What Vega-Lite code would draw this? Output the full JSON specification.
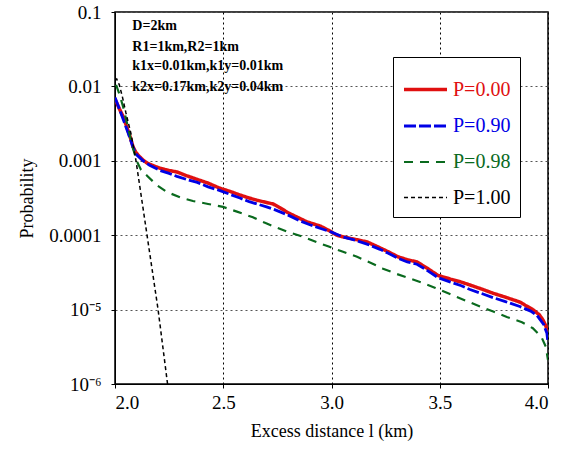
{
  "$schema": "https://vega.github.io/schema/vega-lite/v6.json",
  "width": 433,
  "height": 372,
  "autosize": {"type": "none"},
  "padding": {"left": 115, "top": 12, "right": 31, "bottom": 66},
  "background": "white",
  "config": {
    "font": "Liberation Serif",
    "view": {"stroke": "black", "strokeWidth": 1.5},
    "legend": {"labelFont": "Liberation Serif"},
    "axis": {
      "labelFont": "Liberation Serif",
      "titleFont": "Liberation Serif",
      "labelColor": "black",
      "titleColor": "black",
      "labelFontSize": 19,
      "titleFontSize": 18,
      "titleFontWeight": "normal",
      "domainColor": "black",
      "tickColor": "black",
      "gridColor": "#555555",
      "gridDash": [2, 3],
      "gridWidth": 1
    }
  },
  "layer": [
    {
      "data": {
        "values": [
          {"s": "P=0.00", "l": 2.0, "p": 0.00676},
          {"s": "P=0.00", "l": 2.02, "p": 0.00501},
          {"s": "P=0.00", "l": 2.04, "p": 0.0038},
          {"s": "P=0.00", "l": 2.055, "p": 0.00282},
          {"s": "P=0.00", "l": 2.07, "p": 0.00209},
          {"s": "P=0.00", "l": 2.083, "p": 0.00155},
          {"s": "P=0.00", "l": 2.095, "p": 0.00132},
          {"s": "P=0.00", "l": 2.106, "p": 0.0012},
          {"s": "P=0.00", "l": 2.125, "p": 0.00105},
          {"s": "P=0.00", "l": 2.148, "p": 0.000933},
          {"s": "P=0.00", "l": 2.18, "p": 0.000851},
          {"s": "P=0.00", "l": 2.208, "p": 0.000794},
          {"s": "P=0.00", "l": 2.25, "p": 0.000741},
          {"s": "P=0.00", "l": 2.286, "p": 0.000708},
          {"s": "P=0.00", "l": 2.33, "p": 0.000631},
          {"s": "P=0.00", "l": 2.38, "p": 0.000562},
          {"s": "P=0.00", "l": 2.43, "p": 0.000501},
          {"s": "P=0.00", "l": 2.485, "p": 0.000427},
          {"s": "P=0.00", "l": 2.53, "p": 0.000389},
          {"s": "P=0.00", "l": 2.577, "p": 0.000347},
          {"s": "P=0.00", "l": 2.62, "p": 0.000316},
          {"s": "P=0.00", "l": 2.656, "p": 0.000295},
          {"s": "P=0.00", "l": 2.7, "p": 0.000275},
          {"s": "P=0.00", "l": 2.73, "p": 0.000263},
          {"s": "P=0.00", "l": 2.762, "p": 0.000234},
          {"s": "P=0.00", "l": 2.8, "p": 0.0002},
          {"s": "P=0.00", "l": 2.85, "p": 0.00017},
          {"s": "P=0.00", "l": 2.887, "p": 0.000151},
          {"s": "P=0.00", "l": 2.95, "p": 0.000132},
          {"s": "P=0.00", "l": 2.99, "p": 0.000115},
          {"s": "P=0.00", "l": 3.025, "p": 0.0001},
          {"s": "P=0.00", "l": 3.05, "p": 0.0000955},
          {"s": "P=0.00", "l": 3.1, "p": 0.0000891},
          {"s": "P=0.00", "l": 3.164, "p": 0.0000813},
          {"s": "P=0.00", "l": 3.224, "p": 0.0000676},
          {"s": "P=0.00", "l": 3.26, "p": 0.0000603},
          {"s": "P=0.00", "l": 3.307, "p": 0.0000513},
          {"s": "P=0.00", "l": 3.35, "p": 0.0000468},
          {"s": "P=0.00", "l": 3.395, "p": 0.0000437},
          {"s": "P=0.00", "l": 3.44, "p": 0.0000363},
          {"s": "P=0.00", "l": 3.492, "p": 0.0000288},
          {"s": "P=0.00", "l": 3.55, "p": 0.0000257},
          {"s": "P=0.00", "l": 3.6, "p": 0.0000234},
          {"s": "P=0.00", "l": 3.64, "p": 0.0000214},
          {"s": "P=0.00", "l": 3.7, "p": 0.0000186},
          {"s": "P=0.00", "l": 3.746, "p": 0.0000166},
          {"s": "P=0.00", "l": 3.8, "p": 0.0000148},
          {"s": "P=0.00", "l": 3.871, "p": 0.0000126},
          {"s": "P=0.00", "l": 3.9, "p": 0.0000112},
          {"s": "P=0.00", "l": 3.93, "p": 0.00001},
          {"s": "P=0.00", "l": 3.96, "p": 0.00000851},
          {"s": "P=0.00", "l": 3.977, "p": 0.00000724},
          {"s": "P=0.00", "l": 3.99, "p": 0.00000603},
          {"s": "P=0.00", "l": 4.0, "p": 0.0000049},
          {"s": "P=0.90", "l": 2.0, "p": 0.00708},
          {"s": "P=0.90", "l": 2.03, "p": 0.00417},
          {"s": "P=0.90", "l": 2.06, "p": 0.0024},
          {"s": "P=0.90", "l": 2.085, "p": 0.00148},
          {"s": "P=0.90", "l": 2.1, "p": 0.0012},
          {"s": "P=0.90", "l": 2.13, "p": 0.001},
          {"s": "P=0.90", "l": 2.16, "p": 0.000871},
          {"s": "P=0.90", "l": 2.208, "p": 0.000741},
          {"s": "P=0.90", "l": 2.25, "p": 0.000676},
          {"s": "P=0.90", "l": 2.286, "p": 0.000617},
          {"s": "P=0.90", "l": 2.33, "p": 0.000562},
          {"s": "P=0.90", "l": 2.38, "p": 0.000513},
          {"s": "P=0.90", "l": 2.43, "p": 0.000447},
          {"s": "P=0.90", "l": 2.485, "p": 0.000398},
          {"s": "P=0.90", "l": 2.53, "p": 0.000355},
          {"s": "P=0.90", "l": 2.577, "p": 0.000316},
          {"s": "P=0.90", "l": 2.62, "p": 0.000282},
          {"s": "P=0.90", "l": 2.656, "p": 0.000263},
          {"s": "P=0.90", "l": 2.7, "p": 0.00024},
          {"s": "P=0.90", "l": 2.74, "p": 0.000219},
          {"s": "P=0.90", "l": 2.8, "p": 0.000186},
          {"s": "P=0.90", "l": 2.85, "p": 0.000158},
          {"s": "P=0.90", "l": 2.9, "p": 0.000138},
          {"s": "P=0.90", "l": 2.95, "p": 0.000123},
          {"s": "P=0.90", "l": 3.0, "p": 0.00011},
          {"s": "P=0.90", "l": 3.05, "p": 0.0000955},
          {"s": "P=0.90", "l": 3.1, "p": 0.0000871},
          {"s": "P=0.90", "l": 3.164, "p": 0.0000759},
          {"s": "P=0.90", "l": 3.224, "p": 0.0000646},
          {"s": "P=0.90", "l": 3.26, "p": 0.0000575},
          {"s": "P=0.90", "l": 3.307, "p": 0.000049},
          {"s": "P=0.90", "l": 3.35, "p": 0.0000437},
          {"s": "P=0.90", "l": 3.395, "p": 0.0000407},
          {"s": "P=0.90", "l": 3.44, "p": 0.0000339},
          {"s": "P=0.90", "l": 3.492, "p": 0.0000269},
          {"s": "P=0.90", "l": 3.55, "p": 0.0000234},
          {"s": "P=0.90", "l": 3.6, "p": 0.0000209},
          {"s": "P=0.90", "l": 3.64, "p": 0.0000186},
          {"s": "P=0.90", "l": 3.7, "p": 0.0000162},
          {"s": "P=0.90", "l": 3.746, "p": 0.0000145},
          {"s": "P=0.90", "l": 3.8, "p": 0.0000129},
          {"s": "P=0.90", "l": 3.87, "p": 0.000011},
          {"s": "P=0.90", "l": 3.92, "p": 0.00000955},
          {"s": "P=0.90", "l": 3.95, "p": 0.00000832},
          {"s": "P=0.90", "l": 3.98, "p": 0.00000631},
          {"s": "P=0.90", "l": 3.995, "p": 0.00000479},
          {"s": "P=0.90", "l": 4.0, "p": 0.00000355},
          {"s": "P=0.98", "l": 2.005, "p": 0.0105},
          {"s": "P=0.98", "l": 2.02, "p": 0.00794},
          {"s": "P=0.98", "l": 2.04, "p": 0.00501},
          {"s": "P=0.98", "l": 2.06, "p": 0.00282},
          {"s": "P=0.98", "l": 2.08, "p": 0.00158},
          {"s": "P=0.98", "l": 2.1, "p": 0.001},
          {"s": "P=0.98", "l": 2.12, "p": 0.000759},
          {"s": "P=0.98", "l": 2.148, "p": 0.000631},
          {"s": "P=0.98", "l": 2.19, "p": 0.000479},
          {"s": "P=0.98", "l": 2.24, "p": 0.00038},
          {"s": "P=0.98", "l": 2.3, "p": 0.000324},
          {"s": "P=0.98", "l": 2.36, "p": 0.000288},
          {"s": "P=0.98", "l": 2.43, "p": 0.000263},
          {"s": "P=0.98", "l": 2.499, "p": 0.00024},
          {"s": "P=0.98", "l": 2.56, "p": 0.000209},
          {"s": "P=0.98", "l": 2.637, "p": 0.000174},
          {"s": "P=0.98", "l": 2.69, "p": 0.000148},
          {"s": "P=0.98", "l": 2.748, "p": 0.000126},
          {"s": "P=0.98", "l": 2.8, "p": 0.00011},
          {"s": "P=0.98", "l": 2.868, "p": 0.0000955},
          {"s": "P=0.98", "l": 2.93, "p": 0.0000813},
          {"s": "P=0.98", "l": 2.984, "p": 0.0000708},
          {"s": "P=0.98", "l": 3.05, "p": 0.0000603},
          {"s": "P=0.98", "l": 3.118, "p": 0.0000513},
          {"s": "P=0.98", "l": 3.18, "p": 0.0000427},
          {"s": "P=0.98", "l": 3.238, "p": 0.0000355},
          {"s": "P=0.98", "l": 3.3, "p": 0.0000302},
          {"s": "P=0.98", "l": 3.36, "p": 0.0000263},
          {"s": "P=0.98", "l": 3.42, "p": 0.0000229},
          {"s": "P=0.98", "l": 3.48, "p": 0.0000195},
          {"s": "P=0.98", "l": 3.547, "p": 0.0000162},
          {"s": "P=0.98", "l": 3.62, "p": 0.0000132},
          {"s": "P=0.98", "l": 3.686, "p": 0.000011},
          {"s": "P=0.98", "l": 3.75, "p": 0.00000933},
          {"s": "P=0.98", "l": 3.81, "p": 0.00000794},
          {"s": "P=0.98", "l": 3.88, "p": 0.00000676},
          {"s": "P=0.98", "l": 3.93, "p": 0.00000562},
          {"s": "P=0.98", "l": 3.97, "p": 0.00000427},
          {"s": "P=0.98", "l": 3.99, "p": 0.00000316},
          {"s": "P=0.98", "l": 4.0, "p": 0.00000209},
          {"s": "P=1.00", "l": 2.0, "p": 0.012},
          {"s": "P=1.00", "l": 2.008, "p": 0.0126},
          {"s": "P=1.00", "l": 2.02, "p": 0.0105},
          {"s": "P=1.00", "l": 2.035, "p": 0.00708},
          {"s": "P=1.00", "l": 2.05, "p": 0.00447},
          {"s": "P=1.00", "l": 2.075, "p": 0.00224},
          {"s": "P=1.00", "l": 2.097, "p": 0.001},
          {"s": "P=1.00", "l": 2.148, "p": 0.0001},
          {"s": "P=1.00", "l": 2.199, "p": 0.00001},
          {"s": "P=1.00", "l": 2.245, "p": 0.00000089}
        ]
      },
      "mark": {"type": "line", "clip": true, "strokeCap": "butt"},
      "encoding": {
        "x": {
          "field": "l", "type": "quantitative",
          "scale": {"domain": [2, 4], "nice": false, "zero": false},
          "axis": {
            "values": [2, 2.5, 3, 3.5, 4], "format": ".1f",
            "title": "Excess distance  l  (km)",
            "grid": true, "gridColor": "black", "gridDash": [2, 3],
            "tickSize": 4, "labelPadding": 5, "titlePadding": 10
          }
        },
        "y": {
          "field": "p", "type": "quantitative",
          "scale": {"type": "log", "domain": [0.000001, 0.1], "nice": false},
          "axis": {
            "values": [0.000001, 0.00001, 0.0001, 0.001, 0.01, 0.1],
            "labelExpr": "datum.value < 5e-6 ? '10⁻⁶' : (datum.value < 5e-5 ? '10⁻⁵' : datum.value + '')",
            "title": "Probability",
            "grid": true,
            "tickSize": 4, "labelPadding": 10, "titlePadding": 12
          }
        },
        "color": {
          "field": "s", "type": "nominal",
          "scale": {"domain": ["P=0.00", "P=0.90", "P=0.98", "P=1.00"], "range": ["#e01010", "#0000e6", "#0a6a1e", "black"]},
          "legend": {
            "title": null, "orient": "none", "legendX": 278, "legendY": 45,
            "fillColor": "white", "strokeColor": "black", "padding": 9,
            "labelFont": "Liberation Serif", "labelFontSize": 20,
            "rowPadding": 3, "symbolType": "stroke", "symbolSize": 1850,
            "labelOffset": 4,
            "encode": {"labels": {"update": {"fill": {"scale": "color", "field": "value"}}}}
          }
        },
        "strokeDash": {
          "field": "s", "type": "nominal",
          "scale": {"domain": ["P=0.00", "P=0.90", "P=0.98", "P=1.00"], "range": [[1, 0], [12, 3], [9, 7], [4, 3]]}
        },
        "strokeWidth": {
          "field": "s", "type": "nominal",
          "scale": {"domain": ["P=0.00", "P=0.90", "P=0.98", "P=1.00"], "range": [3.5, 1.5, 2, 2]}
        }
      }
    },
    {
      "data": {
        "values": [
          {"t": "D=2km", "l": 2.08, "p": 0.0649},
          {"t": "R1=1km,R2=1km", "l": 2.08, "p": 0.0339},
          {"t": "k1x=0.01km,k1y=0.01km", "l": 2.08, "p": 0.0188},
          {"t": "k2x=0.17km,k2y=0.04km", "l": 2.08, "p": 0.0098}
        ]
      },
      "mark": {"type": "text", "align": "left", "baseline": "middle", "font": "Liberation Serif", "fontWeight": "bold", "fontSize": 14, "color": "black"},
      "encoding": {
        "x": {"field": "l", "type": "quantitative"},
        "y": {"field": "p", "type": "quantitative"},
        "text": {"field": "t"}
      }
    }
  ]
}
